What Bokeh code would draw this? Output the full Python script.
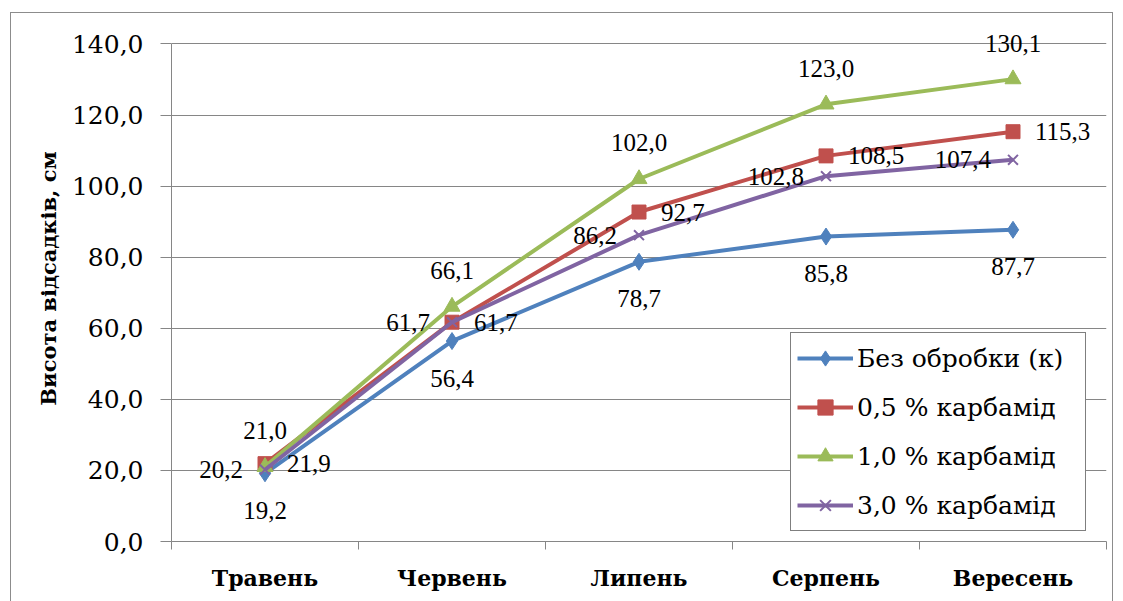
from bokeh.plotting import figure
from bokeh.models import (ColumnDataSource, FixedTicker, Legend, LegendItem, Range1d, LabelSet)
from bokeh.embed import file_html
from bokeh.resources import INLINE

months = ["Травень", "Червень", "Липень", "Серпень", "Вересень"]
series_names = ["Без обробки (к)", "0,5 % карбамід", "1,0 % карбамід", "3,0 % карбамід"]
bez_obrobky = [19.2, 56.4, 78.7, 85.8, 87.7]
karbamid_05 = [21.9, 61.7, 92.7, 108.5, 115.3]
karbamid_10 = [21.0, 66.1, 102.0, 123.0, 130.1]
karbamid_30 = [20.2, 61.7, 86.2, 102.8, 107.4]
y_ticks = [0, 20, 40, 60, 80, 100, 120, 140]

colors = ["#4F81BD", "#C0504D", "#9BBB59", "#8064A2"]
markers = ["diamond", "square", "triangle", "x"]
msizes = [17, 14, 16, 14]
# label placement: below, right, above, left  (LabelSet: positive y_offset is up)
label_pos = [("center", "middle", 0, -37), ("left", "middle", 22, 0),
             ("center", "middle", 0, 36), ("right", "middle", -22, 0)]

FONT = "DejaVu Serif"
xs = [i + 0.5 for i in range(len(months))]

p = figure(width=1103, height=590, output_backend="svg", toolbar_location=None,
           x_range=Range1d(0, 5), y_range=Range1d(0, 148),
           min_border_left=160, min_border_right=8, min_border_top=2, min_border_bottom=62)
p.margin = (12, 0, 0, 10)
p.styles = {"border": "1px solid #8c8c8c"}
p.outline_line_color = None
p.background_fill_color = "white"

# axes
p.xaxis.ticker = FixedTicker(ticks=xs, minor_ticks=[0, 1, 2, 3, 4, 5])
p.xaxis.major_label_overrides = {x: m for x, m in zip(xs, months)}
p.xaxis.major_tick_line_color = None
p.xaxis.minor_tick_line_color = "#868686"
p.xaxis.minor_tick_out = 8
p.xaxis.minor_tick_in = 0
p.xaxis.axis_line_color = "#868686"
p.xaxis.major_label_text_font = FONT
p.xaxis.major_label_text_font_style = "bold"
p.xaxis.major_label_text_font_size = "22px"
p.xaxis.major_label_text_color = "black"
p.xaxis.major_label_standoff = 15

p.yaxis.ticker = FixedTicker(ticks=y_ticks)
p.yaxis.bounds = (0, 140)
p.yaxis.major_label_overrides = {t: f"{t:.1f}".replace(".", ",") for t in y_ticks}
p.yaxis.minor_tick_line_color = None
p.yaxis.major_tick_line_color = "#868686"
p.yaxis.major_tick_out = 11
p.yaxis.major_tick_in = 0
p.yaxis.axis_line_color = "#868686"
p.yaxis.major_label_text_font = FONT
p.yaxis.major_label_text_font_size = "25px"
p.yaxis.major_label_text_color = "black"
p.yaxis.major_label_standoff = 17
p.yaxis.axis_label = "Висота відсадків, см"
p.yaxis.axis_label_text_font = FONT
p.yaxis.axis_label_text_font_style = "bold"
p.yaxis.axis_label_text_font_size = "21px"
p.yaxis.axis_label_text_color = "black"
p.yaxis.axis_label_standoff = 8

p.xgrid.grid_line_color = None
p.ygrid.ticker = FixedTicker(ticks=y_ticks[1:])
p.ygrid.grid_line_color = "#868686"
p.ygrid.grid_line_width = 1

items = []
all_series = [bez_obrobky, karbamid_05, karbamid_10, karbamid_30]
for name, vals, c, m, ms in zip(series_names, all_series, colors, markers, msizes):
    src = ColumnDataSource(dict(x=xs, y=vals))
    l = p.line("x", "y", source=src, line_color=c, line_width=4)
    s = p.scatter("x", "y", source=src, marker=m, size=ms, fill_color=c,
                  line_color=c, line_width=2 if m == "x" else 1)
    items.append(LegendItem(label=name, renderers=[l, s]))

# data labels
for vals, (align, base, xo, yo) in zip(all_series, label_pos):
    src = ColumnDataSource(dict(x=xs, y=vals,
                                t=[f"{v:.1f}".replace(".", ",") for v in vals]))
    p.add_layout(LabelSet(x="x", y="y", text="t", source=src, text_font=FONT,
                          text_font_size="25px", text_color="black", text_align=align,
                          text_baseline=base, x_offset=xo, y_offset=yo))

legend = Legend(items=items, location=(619, 10))
legend.border_line_color = "black"
legend.border_line_width = 1
legend.background_fill_color = "white"
legend.background_fill_alpha = 1
legend.label_text_font = FONT
legend.label_text_font_size = "25px"
legend.label_text_color = "black"
legend.label_height = 38
legend.glyph_height = 38
legend.glyph_width = 56
legend.label_width = 222
legend.label_standoff = 4
legend.spacing = 11
legend.padding = 6
legend.margin = 0
p.add_layout(legend, "center")

open("out.html", "w").write(file_html(p, INLINE))
